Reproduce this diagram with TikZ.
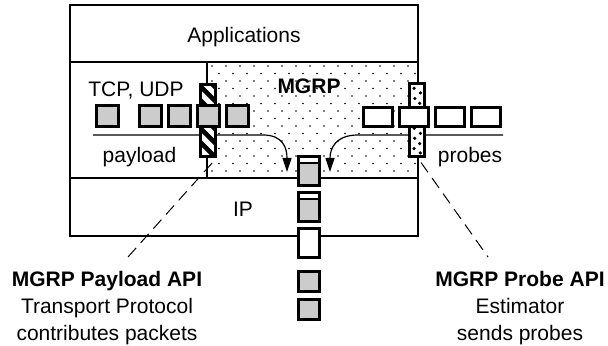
\documentclass[tikz,border=0pt]{standalone}
\usepackage{fontspec}
\setmainfont{Liberation Sans}
\usetikzlibrary{arrows.meta, positioning}
\tikzset{
  pkt/.style={draw, line width=1.5pt, fill=black!20, inner sep=0pt,
    minimum width=11pt, minimum height=10.5pt},
  probe pkt/.style={pkt, fill=white, minimum width=14.5pt, minimum height=9.5pt},
  stack pkt/.style={pkt, minimum width=10.5pt, minimum height=14.5pt},
  header/.style={path picture={
    \fill[white] (path picture bounding box.north west) rectangle
      ([yshift=-2.7pt]path picture bounding box.north east);
    \draw[line width=1.1pt] ([yshift=-3.2pt]path picture bounding box.north west)
      -- ([yshift=-3.2pt]path picture bounding box.north east);}},
  api bar/.style={draw, line width=1.3pt, fill=white, inner sep=0pt,
    minimum width=7.75pt, minimum height=36.25pt},
  hatched/.style={path picture={
    \foreach \y in {6,-1,...,-43}
      \draw[line width=2.3pt] ([yshift=\y pt]path picture bounding box.north west) -- ++(12pt,-12pt);}},
  speckled/.style={path picture={
    \foreach \dx/\dy in {2.4/2.3, 5.6/4.6, 2.8/7.4, 5.2/9.8, 2.3/12.1, 5.7/14.9,
        3.0/17.2, 5.3/19.6, 2.5/22.3, 5.6/24.8, 2.7/27.3, 5.2/29.9, 2.4/32.4, 5.5/34.6}
      \fill[black] ([shift={(\dx pt,-\dy pt)}]path picture bounding box.north west) circle[radius=0.9pt];}},
  txt/.style={font=\fontsize{10.5}{13.5}\selectfont, inner sep=0pt, anchor=base},
  leader/.style={line width=0.5pt, dash pattern=on 6pt off 3.5pt},
  flow/.style={line width=0.6pt, -{Triangle[length=7pt, width=4.5pt]}},
}

\begin{document}
\begin{tikzpicture}[x=0.5pt, y=-0.5pt, node distance=2pt]
  \useasboundingbox (0,0) rectangle (608,346);

  % MGRP layer, dotted
  \fill[white] (207,62) rectangle (418,178);
  \begin{scope}
    \clip (207,62) rectangle (418,178);
    \foreach \j in {0,...,15}
      \foreach \i in {0,...,15}
        \fill ({212+14*\i+7*mod(\j,2)},{66+7.5*\j}) circle[radius=0.45pt];
  \end{scope}

  % protocol stack
  \draw[line width=0.6pt] (70,62) -- (418,62) (70,178) -- (207,178);
  \draw[line width=1.1pt] (207,62) rectangle (418,178);
  \draw[line width=1pt] (70,5) rectangle (418,236);

  \node[txt] (apps) at (244,43) {Applications};
  \node[txt] (tcp) at (136,97) {TCP, UDP};
  \node[txt] (payload) at (139.5,163) {payload};
  \node[txt, font=\fontsize{10.5}{13.5}\selectfont\bfseries] (mgrp) at (309,94) {MGRP};
  \node[txt] (probes) at (470,163) {probes};
  \node[txt] (ip) at (243,217) {IP};

  \coordinate (tcpin) at (93,135);
  \coordinate (paytip) at (287,172);
  \coordinate (probein) at (503,135);
  \coordinate (probetip) at (330,172);
  \draw[flow] (tcpin) -- (263,135) .. controls +(20,0) and +(0,-24) .. (paytip);
  \draw[flow] (probein) -- (358,135) .. controls +(-22,0) and +(0,-24) .. (probetip);

  % API bars
  \node[api bar, hatched] (paybar) at (208,120.5) {};
  \node[api bar, speckled] (probebar) at (417,120) {};

  % payload packets
  \node[pkt] (p1) at (107,116.5) {};
  \node[pkt] (p2) at (150.5,116.5) {};
  \node[pkt, right=of p2] (p3) {};
  \node[pkt, right=of p3] (p4) {};
  \node[pkt, right=of p4] (p5) {};

  % probe packets
  \node[probe pkt] (q1) at (377.5,117) {};
  \node[probe pkt, right=of q1] (q2) {};
  \node[probe pkt, right=of q2] (q3) {};
  \node[probe pkt, right=of q3] (q4) {};

  % packets leaving through IP
  \node[stack pkt, header] (s1) at (309,171) {};
  \node[stack pkt, header, below=of s1] (s2) {};
  \node[stack pkt, fill=white, below=of s2] (s3) {};
  \node[pkt, minimum width=10.5pt, minimum height=10pt, below=5.5pt of s3] (s4) {};
  \node[pkt, minimum width=10.5pt, minimum height=10pt, below=2.5pt of s4] (s5) {};

  % API labels
  \node[txt, anchor=north, align=center] (paylbl) at (107,271)
    {\textbf{MGRP Payload API}\\Transport Protocol\\contributes packets};
  \node[txt, anchor=north, align=center] (problbl) at (520,271)
    {\textbf{MGRP Probe API}\\Estimator\\sends probes};
  \coordinate (payend) at ([xshift=10.5pt, yshift=7pt]paylbl.north);
  \coordinate (probeend) at ([xshift=-16pt, yshift=7pt]problbl.north);
  \draw[leader] ([shift={(-2.5pt,-2.5pt)}]paybar.south east) -- (payend);
  \draw[leader] ([shift={(-2.5pt,-2.5pt)}]probebar.south east) -- (probeend);
\end{tikzpicture}
\end{document}
